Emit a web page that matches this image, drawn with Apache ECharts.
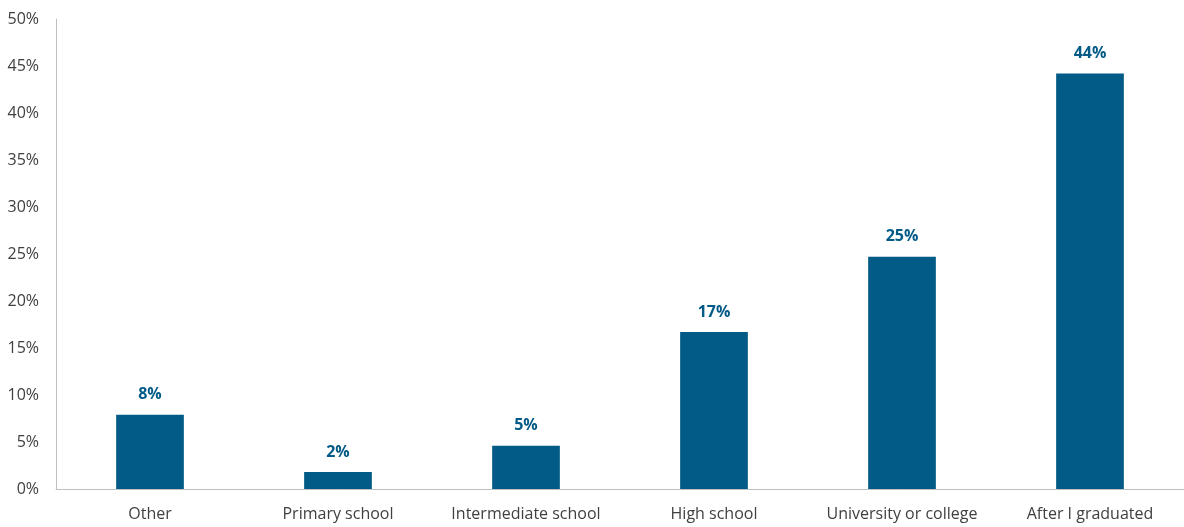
<!DOCTYPE html>
<html>
<head>
<meta charset="utf-8">
<script src="https://cdn.jsdelivr.net/npm/echarts@6/dist/echarts.min.js"></script>
<style>
  html, body { margin: 0; padding: 0; background: #ffffff; }
  #chart { width: 1184px; height: 527px; }
</style>
</head>
<body>
<div id="chart"></div>
<script>
// When people started: share of respondents by stage
const categories = ['Other', 'Primary school', 'Intermediate school', 'High school', 'University or college', 'After I graduated'];
const shares = [7.9, 1.8, 4.6, 16.7, 24.7, 44.2];
const yTicks = [0, 5, 10, 15, 20, 25, 30, 35, 40, 45, 50];

const chart = echarts.init(document.getElementById('chart'));
chart.setOption({
  animation: false,
  grid: { left: 56, right: 0, top: 19, bottom: 38 },
  xAxis: {
    type: 'category',
    data: categories,
    axisLine: { lineStyle: { color: '#bfbfbf', width: 1 } },
    axisTick: { show: false },
    axisLabel: {
      color: '#404040', fontFamily: 'Open Sans', fontSize: 16, margin: 17,
      interval: 0, hideOverlap: false
    }
  },
  yAxis: {
    type: 'value',
    min: yTicks[0],
    max: yTicks[yTicks.length - 1],
    interval: 5,
    axisLine: { show: true, lineStyle: { color: '#bfbfbf', width: 1 } },
    axisTick: { show: false },
    splitLine: { show: false },
    axisLabel: {
      color: '#404040', fontFamily: 'Open Sans', fontSize: 16, margin: 17,
      formatter: v => v + '%'
    }
  },
  series: [{
    type: 'bar',
    data: shares,
    barWidth: '36%',
    itemStyle: { color: '#025a87' },
    label: {
      show: true,
      position: 'top',
      distance: 12,
      color: '#025a87',
      fontFamily: 'Open Sans',
      fontWeight: 'bold',
      fontSize: 16,
      formatter: p => Math.round(p.value) + '%'
    }
  }]
});
</script>
</body>
</html>
